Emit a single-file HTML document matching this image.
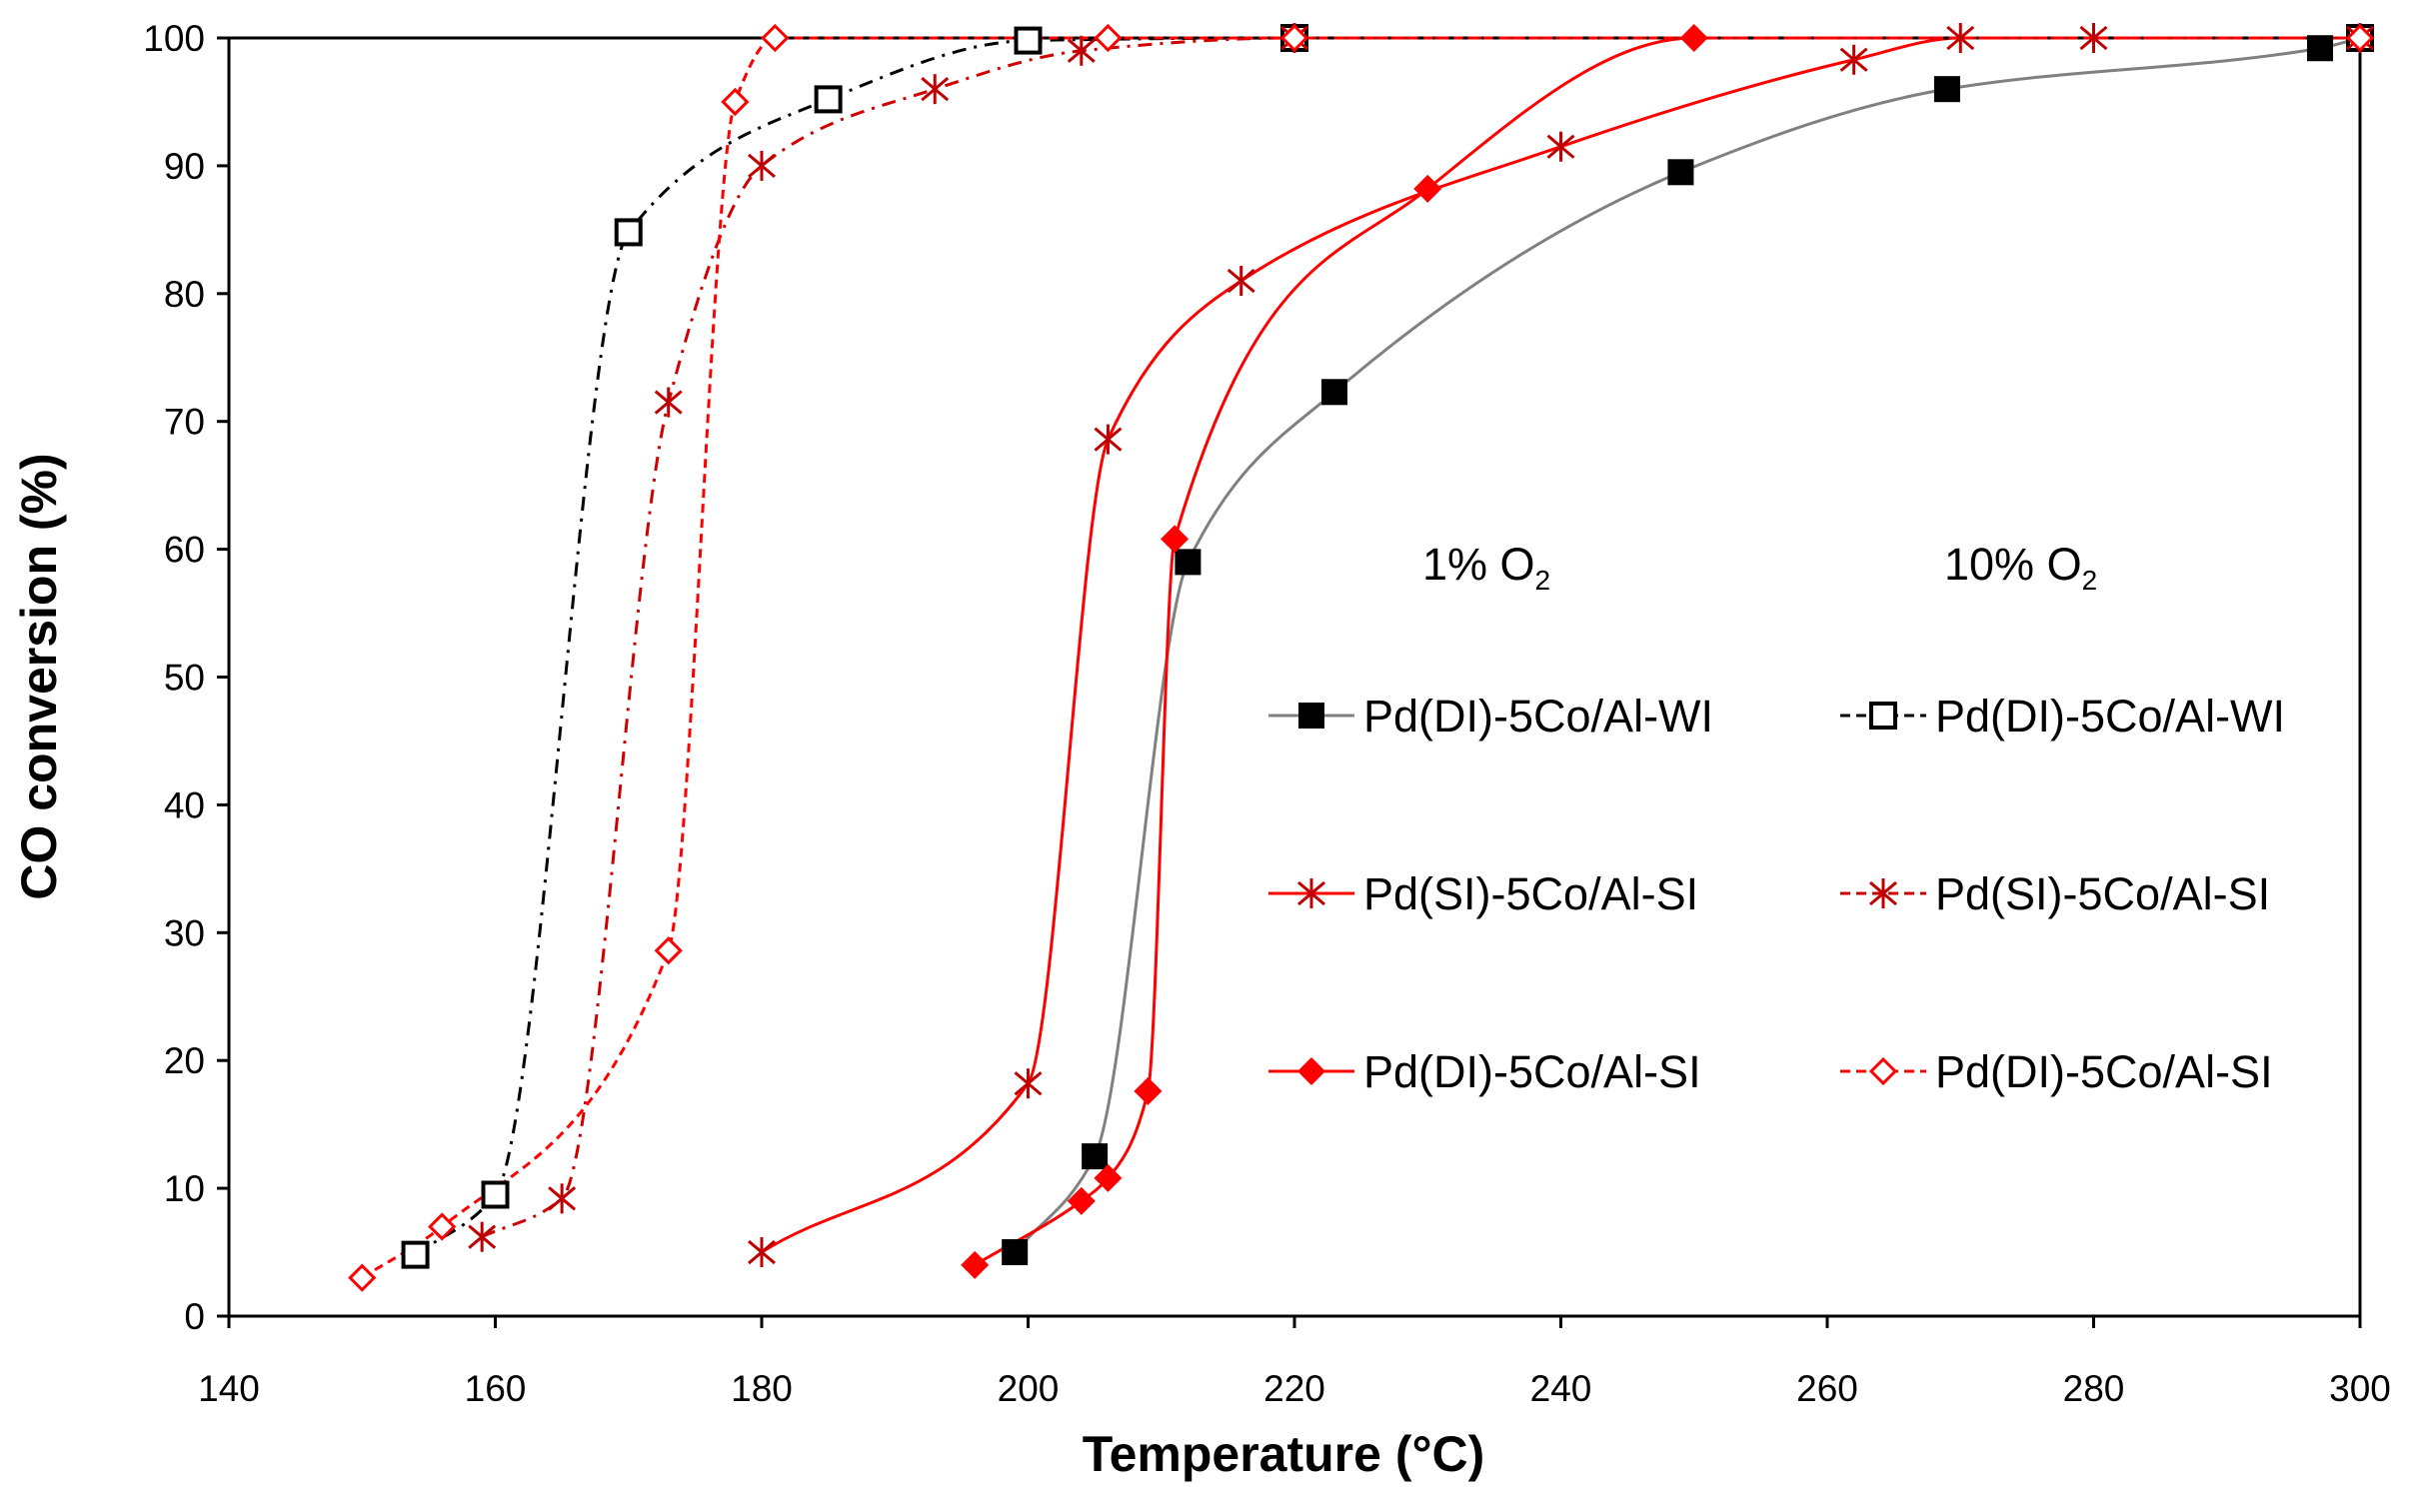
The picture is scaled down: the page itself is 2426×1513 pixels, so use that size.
<!DOCTYPE html>
<html><head><meta charset="utf-8"><style>
html,body{margin:0;padding:0;background:#fff;}
svg{display:block;}
text{font-family:"Liberation Sans",sans-serif;}
</style></head><body>
<svg id="s" width="2426" height="1513" viewBox="0 0 2426 1513" xmlns="http://www.w3.org/2000/svg">
<rect width="2426" height="1513" fill="#fff"/>
<g id="axes" stroke="#000" stroke-width="3" fill="none">
<line x1="229" y1="38" x2="2361" y2="38"/>
<line x1="2361" y1="38" x2="2361" y2="1317"/>
<line x1="229" y1="38" x2="229" y2="1317"/>
<line x1="229" y1="1317" x2="2361" y2="1317"/>
</g>
<g id="ticks" stroke="#000" stroke-width="3"></g>
<g id="labels" font-size="37" fill="#000"></g>
<text x="56" y="677" font-size="50" font-weight="bold" text-anchor="middle" transform="rotate(-90 56 677)">CO conversion (%)</text>
<text x="1284" y="1472" font-size="50" font-weight="bold" text-anchor="middle">Temperature (°C)</text>
<g id="curves" fill="none"></g>
<g id="markers"></g>
<text x="1423" y="580" font-size="45">1% O<tspan font-size="28" dy="10">2</tspan></text>
<text x="1945" y="580" font-size="45">10% O<tspan font-size="28" dy="10">2</tspan></text>
<g id="legend" font-size="45"></g>
</svg>
<script>
const X0=229,X1=2361,Y0=1317,Y1=38;
const sx=t=>X0+(t-140)/160*(X1-X0), sy=v=>Y0-v/100*(Y0-Y1);
const NS="http://www.w3.org/2000/svg";
function el(p,tag,a,txt){const e=document.createElementNS(NS,tag);for(const k in a)e.setAttribute(k,a[k]);if(txt!==undefined)e.textContent=txt;document.getElementById(p).appendChild(e);return e;}
for(let t=140;t<=300;t+=20){const x=sx(t);el('ticks','line',{x1:x,y1:Y0,x2:x,y2:Y0+12});el('labels','text',{x:x,y:1402,'text-anchor':'middle'},t);}
for(let v=0;v<=100;v+=10){const y=sy(v);el('ticks','line',{x1:X0-12,y1:y,x2:X0,y2:y});el('labels','text',{x:205,y:y+13,'text-anchor':'end'},v);}
function path(pts){
 const P=pts.map(p=>[sx(p[0]),sy(p[1])]);const n=P.length;
 const d=[],m=new Array(n);
 for(let i=0;i<n-1;i++)d.push((P[i+1][1]-P[i][1])/(P[i+1][0]-P[i][0]));
 m[0]=d[0];m[n-1]=d[n-2];
 for(let i=1;i<n-1;i++){if(d[i-1]*d[i]<=0)m[i]=0;else{const h0=P[i][0]-P[i-1][0],h1=P[i+1][0]-P[i][0];const w1=2*h1+h0,w2=h1+2*h0;m[i]=(w1+w2)/(w1/d[i-1]+w2/d[i]);}}
 let s='M'+P[0][0]+','+P[0][1];
 for(let i=0;i<n-1;i++){const h=(P[i+1][0]-P[i][0])/3;
  s+=` C${P[i][0]+h},${P[i][1]+m[i]*h} ${P[i+1][0]-h},${P[i+1][1]-m[i+1]*h} ${P[i+1][0]},${P[i+1][1]}`;}
 return s;}
function marker(g,type,x,y){
 if(type==='fsq')el(g,'rect',{x:x-13,y:y-13,width:26,height:26,fill:'#000'});
 if(type==='osq')el(g,'rect',{x:x-12,y:y-12,width:24,height:24,fill:'#fff',stroke:'#000','stroke-width':4});
 if(type==='fdi')el(g,'polygon',{points:`${x},${y-14} ${x+14},${y} ${x},${y+14} ${x-14},${y}`,fill:'#ff0000'});
 if(type==='odi')el(g,'polygon',{points:`${x},${y-12} ${x+12},${y} ${x},${y+12} ${x-12},${y}`,fill:'#fff',stroke:'#ff0000','stroke-width':3});
 if(type==='ast'){const c='#c00000';el(g,'line',{x1:x,y1:y-15,x2:x,y2:y+15,stroke:c,'stroke-width':3});el(g,'line',{x1:x-13,y1:y-11,x2:x+13,y2:y+11,stroke:c,'stroke-width':3});el(g,'line',{x1:x-13,y1:y+11,x2:x+13,y2:y-11,stroke:c,'stroke-width':3});}
}
const S=[
 {pts:[[199,5],[205,12.5],[212,59],[223,72.3],[249,89.5],[269,96],[297,99.2],[300,100]],col:'#808080',dash:'',m:'fsq'},
 {pts:[[180,5],[200,18.2],[206,68.6],[216,81],[240,91.5],[262,98.3],[270,100],[280,100],[300,100]],col:'#ff0000',dash:'',m:'ast'},
 {pts:[[196,4],[204,9],[206,10.8],[209,17.6],[211,60.8],[230,88.2],[250,100],[300,100]],col:'#ff0000',dash:'',m:'fdi'},
 {pts:[[154,4.8],[160,9.5],[170,84.8],[185,95.2],[200,99.8],[220,100],[300,100]],col:'#000',dash:'14 8 3 8',m:'osq'},
 {pts:[[159,6.2],[165,9.2],[173,71.5],[180,90],[193,96],[204,99],[220,100],[300,100]],col:'#d00000',dash:'14 8 3 8',m:'ast'},
 {pts:[[150,3],[156,7],[173,28.6],[178,95],[181,100],[206,100],[220,100],[300,100]],col:'#ff0000',dash:'9 6',m:'odi'}
];
S.forEach(s=>{el('curves','path',{d:path(s.pts),stroke:s.col,'stroke-width':3,'stroke-dasharray':s.dash});});
S.forEach(s=>{s.pts.forEach(p=>marker('markers',s.m,sx(p[0]),sy(p[1])));});
const rows=[716,894,1072];
const leg=[[0,'Pd(DI)-5Co/Al-WI'],[1,'Pd(SI)-5Co/Al-SI'],[2,'Pd(DI)-5Co/Al-SI'],[3,'Pd(DI)-5Co/Al-WI'],[4,'Pd(SI)-5Co/Al-SI'],[5,'Pd(DI)-5Co/Al-SI']];
leg.forEach(([i,t],j)=>{const s=S[i];const col=j<3?0:1;const y=rows[j%3];const lx=col?1841:1269;
 el('legend','line',{x1:lx,y1:y,x2:lx+86,y2:y,stroke:s.col,'stroke-width':3,'stroke-dasharray':s.dash?'10 6':''});
 marker('legend',s.m,lx+43,y);
 el('legend','text',{x:lx+95,y:y+16},t);});
</script>
</body></html>
